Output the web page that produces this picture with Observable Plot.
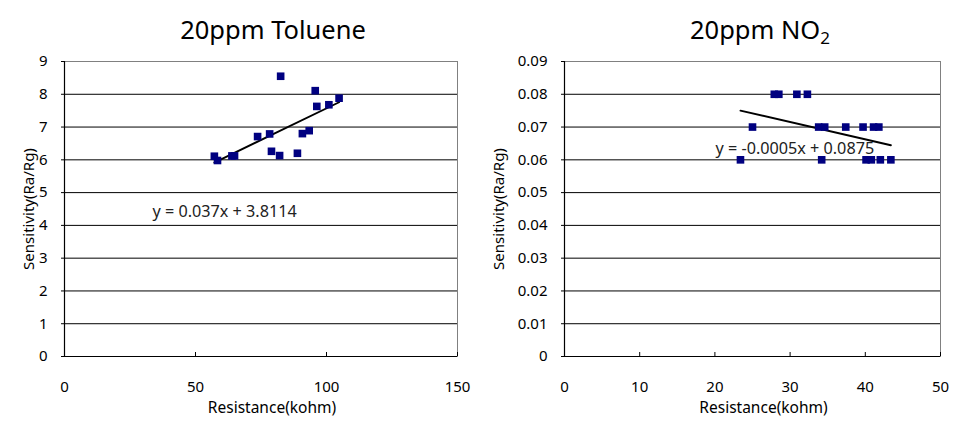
<!DOCTYPE html>
<html>
<head>
<meta charset="utf-8">
<script src="https://cdn.jsdelivr.net/npm/d3@7"></script>
<script src="https://cdn.jsdelivr.net/npm/@observablehq/plot@0.6"></script>
<style>
  html, body { margin: 0; padding: 0; background: #fff; }
  #wrap { position: relative; width: 962px; height: 428px; font-family: "Noto Sans", sans-serif; color: #000; overflow: hidden; }
  .panel { position: absolute; top: 0; }
  .title { position: absolute; top: 13px; font-size: 25.5px; line-height: 32px; text-align: center; white-space: nowrap; }
  .title sub { font-size: 17px; vertical-align: -5px; line-height: 0; }
</style>
</head>
<body>
<div id="wrap">
  <div class="title" style="left:173px; width:200px;">20ppm Toluene</div>
  <div class="title" style="left:660px; width:200px;">20ppm NO<sub>2</sub></div>
  <div class="panel" id="left" style="left:0px;"></div>
  <div class="panel" id="right" style="left:481px;"></div>
</div>
<script>
// ---- Data ----
const tolueneResistance = [57.2, 58.4, 63.9, 64.9, 73.7, 78.3, 79.0, 82.1, 82.5, 88.9, 90.8, 93.4, 95.7, 96.3, 100.9, 104.8];
const tolueneSensitivity = [6.11, 5.98, 6.12, 6.12, 6.71, 6.79, 6.26, 6.13, 8.55, 6.20, 6.80, 6.89, 8.11, 7.63, 7.68, 7.88];

const no2Resistance = [27.9, 28.5, 30.9, 32.3, 25.0, 33.8, 34.6, 37.4, 39.7, 41.1, 41.8, 23.4, 34.2, 40.1, 40.8, 42.0, 43.4];
const no2Sensitivity = [0.08, 0.08, 0.08, 0.08, 0.07, 0.07, 0.07, 0.07, 0.07, 0.07, 0.07, 0.06, 0.06, 0.06, 0.06, 0.06, 0.06];

const tolueneXTicks = [0, 50, 100, 150];
const tolueneYTicks = [0, 1, 2, 3, 4, 5, 6, 7, 8, 9];
const no2XTicks = [0, 10, 20, 30, 40, 50];
const no2YTicks = [0, 0.01, 0.02, 0.03, 0.04, 0.05, 0.06, 0.07, 0.08, 0.09];

const tolueneEquation = "y = 0.037x + 3.8114";
const no2Equation = "y = -0.0005x + 0.0875";
const xAxisTitle = "Resistance(kohm)";
const yAxisTitle = "Sensitivity(Ra/Rg)";

function panel({xs, ys, xTicks, yTicks, yFormat, marginLeft, marginRight, labelOffset, eq, eqDx, eqDy, xLabelDx}) {
  const data = xs.map((x, i) => ({x, y: ys[i]}));
  const xMax = xTicks[xTicks.length - 1];
  const yMax = yTicks[yTicks.length - 1];
  const inner = yTicks.slice(1, -1);
  return Plot.plot({
    width: 481,
    height: 428,
    marginLeft,
    marginRight,
    marginTop: 61,
    marginBottom: 72,
    style: {fontFamily: "Noto Sans, sans-serif", fontSize: "14px", color: "#000", background: "transparent"},
    x: {domain: [0, xMax]},
    y: {domain: [0, yMax]},
    marks: [
      Plot.ruleY(inner, {stroke: "#000", strokeWidth: 1}),
      Plot.frame({stroke: "#808080", strokeWidth: 1}),
      Plot.ruleX([0], {stroke: "#000", strokeWidth: 1.2}),
      Plot.ruleY([0], {stroke: "#000", strokeWidth: 1.2}),
      Plot.axisY({
        ticks: yTicks, tickSize: 3, tickPadding: 14, tickFormat: yFormat,
        fontSize: 15, label: yAxisTitle, labelAnchor: "center", labelArrow: "none", labelOffset
      }),
      Plot.axisX({ticks: xTicks, tickSize: -4, tickFormat: () => "", label: null}),
      Plot.axisX({ticks: xTicks, tickSize: 0, tickPadding: 25, fontSize: 15, label: null}),
      Plot.text([xAxisTitle], {frameAnchor: "bottom", dx: xLabelDx, dy: 52, lineAnchor: "middle", fontSize: 15.5, fill: "#000"}),
      Plot.linearRegressionY(data, {x: "x", y: "y", stroke: "#000", strokeWidth: 1.9, ci: 0}),
      Plot.dot(data, {x: "x", y: "y", symbol: "square", r: 4.3, fill: "#000080", stroke: "none"}),
      Plot.text([eq], {frameAnchor: "top-left", dx: eqDx, dy: eqDy, textAnchor: "start", lineAnchor: "middle", fontSize: 16.2, fill: "#222"})
    ]
  });
}

document.getElementById("left").append(panel({
  xs: tolueneResistance, ys: tolueneSensitivity,
  xTicks: tolueneXTicks, yTicks: tolueneYTicks, yFormat: d3.format("d"),
  marginLeft: 64, marginRight: 24, labelOffset: 41,
  eq: tolueneEquation, eqDx: 88, eqDy: 150, xLabelDx: 11
}));

document.getElementById("right").append(panel({
  xs: no2Resistance, ys: no2Sensitivity,
  xTicks: no2XTicks, yTicks: no2YTicks, yFormat: d => d === 0 ? "0" : d3.format(".2f")(d),
  marginLeft: 83, marginRight: 22, labelOffset: 71,
  eq: no2Equation, eqDx: 151, eqDy: 87, xLabelDx: 11
}));
</script>
</body>
</html>
